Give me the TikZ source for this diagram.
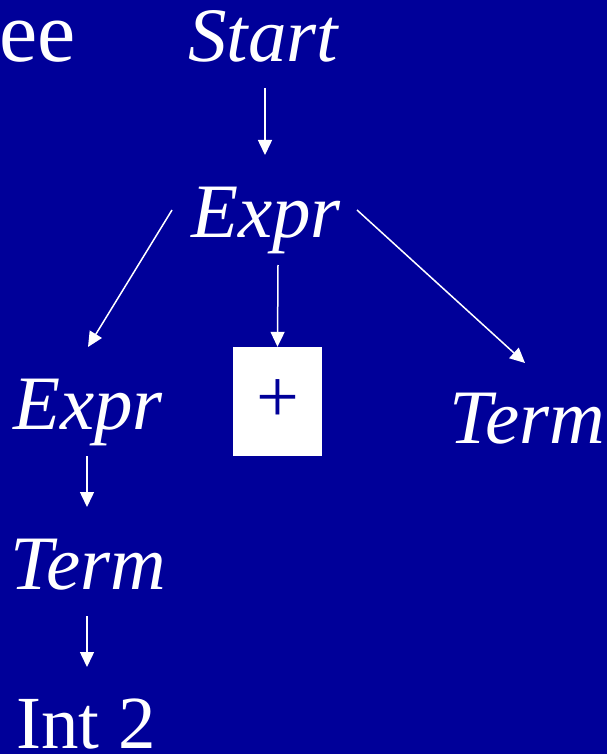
\documentclass[tikz,border=0pt]{standalone}
\usepackage{fontspec}
\setmainfont{Liberation Serif}
\usetikzlibrary{arrows.meta,calc}
\definecolor{bgblue}{RGB}{0,0,153}
\tikzset{
  lbl/.style={inner sep=0pt, text=white, font=\fontsize{77}{90}\selectfont\itshape, anchor=base},
  rlbl/.style={inner sep=0pt, text=white, font=\fontsize{75}{88}\selectfont, anchor=base},
  arr/.style={draw=white, line width=1.5pt, -{Triangle[length=15pt,width=14pt]}},
  plusbox/.style={fill=white, inner sep=0pt, minimum width=89pt, minimum height=109pt, text=bgblue, font=\fontsize{76}{88}\selectfont}
}
\begin{document}
\begin{tikzpicture}[x=1pt,y=-1pt]
\fill[bgblue] (0,0) rectangle (607,754);
\useasboundingbox (0,0) rectangle (607,754);
\node[inner sep=0pt, text=white, font=\fontsize{86}{100}\selectfont, anchor=base east] (ee) at (76,62) {ee};
\node[lbl] (start) at (263,62) {Start};
\node[lbl] (exprT) at (266,237) {Expr};
\node[lbl] (exprL) at (88,429) {Expr};
\node[lbl] (termR) at (527,443) {Term};
\node[lbl] (termL) at (88,589) {Term};
\node[rlbl] (int) at (86,748) {Int 2};
\node[plusbox] (plus) at (277.5,401.5) {+};
\draw[arr] ($(start.base)+(2,26)$) -- ($(exprT.base)+(-1,-82)$);
\draw[arr] ($(exprT.base)+(-94,-27)$) -- ($(exprL.base)+(0,-82)$);
\draw[arr] ($(exprT.base)+(12,28)$) -- (plus.north);
\draw[arr] ($(exprT.base)+(91,-27)$) -- ($(termR.base)+(-2,-80)$);
\draw[arr] ($(exprL.base)+(-1,27)$) -- ($(termL.base)+(-1,-82)$);
\draw[arr] ($(termL.base)+(-1,27)$) -- ($(int.base)+(1,-81)$);
\end{tikzpicture}
\end{document}
